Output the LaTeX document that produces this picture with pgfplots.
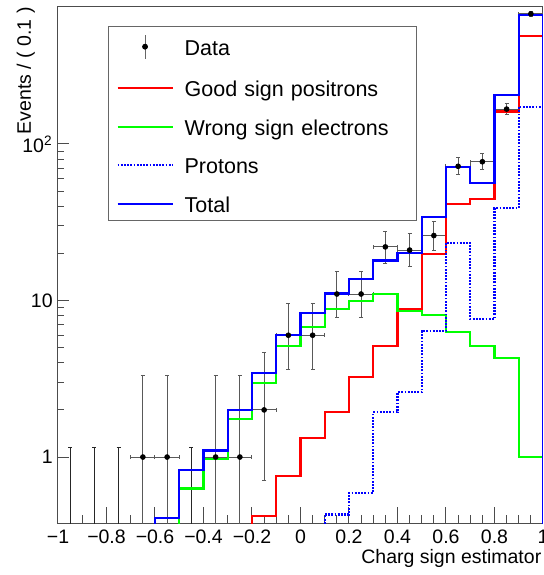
\documentclass[border=0pt]{standalone}
\usepackage{fontspec}
\setmainfont{Liberation Sans}
\usepackage{pgfplots}
\pgfplotsset{compat=1.18}
\usetikzlibrary{calc}
\definecolor{rootred}{RGB}{255,0,0}
\definecolor{rootgreen}{RGB}{0,255,0}
\definecolor{rootblue}{RGB}{0,0,255}
\begin{document}
\begin{tikzpicture}
\begin{axis}[
  scale only axis, width=242.5pt, height=258pt,
  xmin=-1, xmax=1, ymode=log, ymin=0.379, ymax=750,
  axis line style={black!70, line width=0.5pt},
  xtick={-1,-0.8,-0.6,-0.4,-0.2,0,0.2,0.4,0.6,0.8,1},
  xticklabels={−1,−0.8,−0.6,−0.4,−0.2,0,0.2,0.4,0.6,0.8,1},
  minor x tick num=3,
  ytick={1,10,100}, yticklabels={1,10,10\textsuperscript{2}},
  xtick pos=bottom, ytick pos=left, tick align=inside,
  major tick length=5.5pt, minor tick length=3pt,
  every tick/.style={black!70, line width=0.5pt},
  xtick style={/pgfplots/major tick length=8pt, /pgfplots/minor tick length=4pt},
  /pgf/number format/assume math mode=true,
  ticklabel style={font=\fontsize{9.75}{11}\selectfont, inner sep=0pt},
  xticklabel style={anchor=base, yshift=-10.15pt},
  yticklabel style={anchor=east, xshift=-2.5pt},
  xlabel={Charg sign estimator}, ylabel={Events / ( 0.1 )},
  label style={font=\fontsize{9.75}{11}\selectfont, inner sep=0pt},
  xlabel style={at={(rel axis cs:1,0)}, anchor=base east, yshift=-20.5pt, xshift=-0.65pt},
  ylabel style={at={(rel axis cs:-0.0557,1)}, anchor=base east},
  legend style={at={(rel axis cs:0.103,0.963)}, anchor=north west, draw=black!60, line width=0.5pt,
    inner xsep=4pt, inner ysep=3.8pt, row sep=9.85pt, column sep=5.5pt,
    font=\fontsize{10.75}{12}\selectfont,
    nodes={inner sep=0pt, text height=9pt, text depth=0.4pt},
    /tikz/every even column/.append style={text width=112pt, align=left}},
  legend cell align=left,
  legend image code/.code={\draw[#1] (0pt,0pt) -- (27.5pt,0pt);},
]
\coordinate (SW) at (rel axis cs:0,0);
\coordinate (NE) at (rel axis cs:1,1);

% empty bins
\addplot[forget plot, only marks, mark=none,
  error bars/.cd, y dir=plus, y explicit, error mark=-,
  error mark options={rotate=90, mark size=1pt, line width=0.5pt, draw=black!85},
  error bar style={draw=black!85, line width=0.5pt}] coordinates {
 (-0.95,0.05) += (0,1.097)
 (-0.85,0.05) += (0,1.097)
 (-0.75,0.05) += (0,1.097)
 (-0.45,0.05) += (0,1.097)
};
% data
\addplot[only marks, mark=*, mark size=1.2pt, black, mark options={draw=none, fill=black},
  legend image code/.code={\draw[black!60, line width=0.5pt] (13.75pt,-6pt) -- (13.75pt,6pt); \fill[black] (13.75pt,0pt) circle (1.2pt); \path[draw=none, fill=none] (0pt,0pt) -- (27.5pt,0pt);},
  error bars/.cd, x dir=both, x explicit, y dir=both, y explicit, error mark=-,
  error mark options={rotate=90, mark size=1pt, line width=0.5pt, draw=black!65},
  error bar style={draw=black!65, line width=0.5pt}] coordinates {
 (-0.65,1) += (0.05,2.30) -= (0.05,0.827)
 (-0.55,1) += (0.05,2.30) -= (0.05,0.827)
 (-0.35,1) += (0.05,2.30) -= (0.05,0.827)
 (-0.25,1) += (0.05,2.30) -= (0.05,0.827)
 (-0.15,2) += (0.05,2.64) -= (0.05,1.29)
 (-0.05,6) += (0.05,3.60) -= (0.05,2.37)
 (0.05,6) += (0.05,3.60) -= (0.05,2.37)
 (0.15,11) += (0.05,4.43) -= (0.05,3.26)
 (0.25,11) += (0.05,4.43) -= (0.05,3.26)
 (0.35,22) += (0.05,5.77) -= (0.05,4.65)
 (0.45,21) += (0.05,5.67) -= (0.05,4.54)
 (0.55,26) += (0.05,6.17) -= (0.05,5.06)
 (0.65,72) += (0.05,9.53) -= (0.05,8.46)
 (0.75,77) += (0.05,9.82) -= (0.05,8.75)
 (0.85,167) += (0.05,13.95) -= (0.05,12.9)
 (0.95,678) += (0.05,27.1) -= (0.05,26.0)
};
\addlegendentry{Data}
% good sign positrons
\addplot[const plot mark left, rootred, line width=1.1pt] coordinates {
 (-0.2,0.01) (-0.2,0.42) (-0.1,0.76) (0,1.32) (0.1,1.95) (0.2,3.23) (0.3,5.12)
 (0.4,8.8) (0.5,19.8) (0.6,41.4) (0.7,44.3) (0.8,161) (0.9,490) (1,490) (1,0.01)
};
\addlegendentry{Good sign positrons}
% wrong sign electrons
\addplot[const plot mark left, rootgreen, line width=1.1pt] coordinates {
 (-0.6,0.01) (-0.6,0.3) (-0.5,0.63) (-0.4,0.97) (-0.3,1.74) (-0.2,2.96) (-0.1,5.14)
 (0,6.74) (0.1,8.78) (0.2,9.97) (0.3,10.96) (0.4,8.6) (0.5,8.11) (0.6,6.3)
 (0.7,5.14) (0.8,4.27) (0.9,1.0) (1,1.0) (1,0.01)
};
\addlegendentry{Wrong sign electrons}
% protons
\addplot[const plot mark left, rootblue, line width=1.1pt, dash pattern=on 0.9pt off 0.7pt] coordinates {
 (0.1,0.01) (0.1,0.43) (0.2,0.59) (0.3,1.93) (0.4,2.59) (0.5,6.38) (0.6,23.4)
 (0.7,7.6) (0.8,38.8) (0.9,173) (1,173) (1,0.01)
};
\addlegendentry{Protons}
% total
\addplot[const plot mark left, rootblue, line width=1.1pt] coordinates {
 (-0.6,0.01) (-0.6,0.41) (-0.5,0.83) (-0.4,1.10) (-0.3,2.00) (-0.2,3.46) (-0.1,6.0)
 (0,8.28) (0.1,11.1) (0.2,13.7) (0.3,18.0) (0.4,20.2) (0.5,34) (0.6,71.6)
 (0.7,56.6) (0.8,205) (0.9,664) (1,664) (1,0.01)
};
\addlegendentry{Total}
\end{axis}
\pgfresetboundingbox
\useasboundingbox ($(SW)+(-29pt,-26pt)$) rectangle ($(NE)+(0.5pt,3.5pt)$);
\end{tikzpicture}
\end{document}
